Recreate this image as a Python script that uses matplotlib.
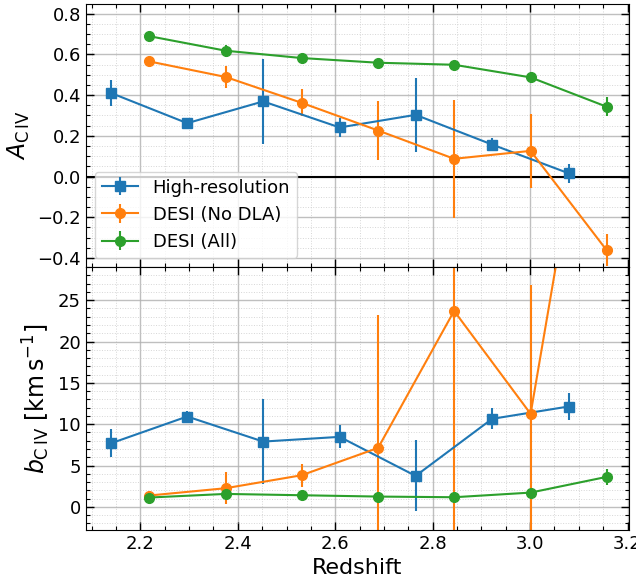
import numpy as np
import matplotlib
matplotlib.use("Agg")
import matplotlib.pyplot as plt
from matplotlib.ticker import MultipleLocator

# redshift bins
z_hr = [2.140, 2.296, 2.452, 2.609, 2.765, 2.922, 3.079]
z_desi = [2.217, 2.375, 2.531, 2.688, 2.844, 3.001, 3.157]

# A_CIV
A_hr = [0.410, 0.262, 0.369, 0.241, 0.303, 0.157, 0.016]
A_hr_err = [0.063, 0.022, 0.207, 0.048, 0.182, 0.032, 0.046]
A_nodla = [0.566, 0.489, 0.362, 0.226, 0.087, 0.126, -0.362]
A_nodla_err = [0.023, 0.055, 0.066, 0.143, 0.290, 0.183, 0.080]
A_all = [0.690, 0.618, 0.582, 0.559, 0.549, 0.487, 0.343]
A_all_err = [0.012, 0.030, 0.012, 0.012, 0.012, 0.028, 0.048]

# b_CIV
b_hr = [7.70, 10.93, 7.90, 8.47, 3.75, 10.65, 12.14]
b_hr_err = [1.67, 0.70, 5.16, 1.40, 4.30, 1.25, 1.60]
b_nodla = [1.37, 2.26, 3.83, 7.14, 23.7, 11.25, 65.0]
b_nodla_err = [0.30, 1.94, 1.40, 16.1, 30.0, 15.6, 20.0]
b_all = [1.13, 1.57, 1.41, 1.25, 1.17, 1.73, 3.63]
b_all_err = [0.25, 0.30, 0.20, 0.20, 0.20, 0.25, 1.00]

labels = ["High-resolution", "DESI (No DLA)", "DESI (All)"]
colors = ["C0", "C1", "C2"]

fig, (ax1, ax2) = plt.subplots(2, 1, sharex=True, figsize=(6.36, 5.87), dpi=100)
plt.subplots_adjust(left=0.135, right=0.989, top=0.993, bottom=0.097, hspace=0)

ax1.axhline(0, color="k", lw=1.5, zorder=1)
ax1.errorbar(z_hr, A_hr, yerr=A_hr_err, fmt="s-", color=colors[0], ms=7, lw=1.5, label=labels[0])
ax1.errorbar(z_desi, A_nodla, yerr=A_nodla_err, fmt="o-", color=colors[1], ms=7, lw=1.5, label=labels[1])
ax1.errorbar(z_desi, A_all, yerr=A_all_err, fmt="o-", color=colors[2], ms=7, lw=1.5, label=labels[2])

ax2.errorbar(z_hr, b_hr, yerr=b_hr_err, fmt="s-", color=colors[0], ms=7, lw=1.5)
ax2.errorbar(z_desi, b_nodla, yerr=b_nodla_err, fmt="o-", color=colors[1], ms=7, lw=1.5)
ax2.errorbar(z_desi, b_all, yerr=b_all_err, fmt="o-", color=colors[2], ms=7, lw=1.5)

ax1.set_ylim(-0.445, 0.847)
ax2.set_ylim(-2.8, 29.0)
ax2.set_xlim(2.088, 3.203)

ax1.yaxis.set_major_locator(MultipleLocator(0.2))
ax1.yaxis.set_minor_locator(MultipleLocator(0.05))
ax2.yaxis.set_major_locator(MultipleLocator(5))
ax2.yaxis.set_minor_locator(MultipleLocator(1))
ax2.xaxis.set_major_locator(MultipleLocator(0.2))
ax2.xaxis.set_minor_locator(MultipleLocator(0.05))

for ax in (ax1, ax2):
    ax.tick_params(which="both", direction="in", top=True, right=True, labelsize=13)
    ax.tick_params(which="major", length=5.5, width=1)
    ax.tick_params(which="minor", length=3, width=0.8)
    ax.grid(which="major", color="#b0b0b0", lw=1, alpha=0.8)
    ax.grid(which="minor", color="#cccccc", lw=0.7, ls=":", alpha=0.8)
    ax.set_axisbelow(True)

ax1.set_ylabel(r"$A_{\rm C\,IV}$", fontsize=17)
ax2.set_ylabel(r"$b_{\rm C\,IV}$ [km$\,$s$^{-1}$]", fontsize=17)
ax2.set_xlabel("Redshift", fontsize=16)

ax1.legend(loc="lower left", fontsize=13)

fig.savefig("out.png", dpi=100)
